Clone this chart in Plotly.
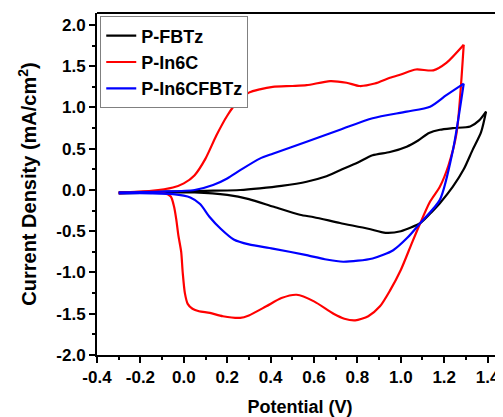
import plotly.graph_objects as go

# P-FBTz (black): forward (anodic) and return (cathodic) branches
fbtz_fwd_x = [-0.3, -0.1, 0.1, 0.26, 0.35, 0.45, 0.566, 0.65, 0.72, 0.8, 0.87, 0.95, 1.027, 1.08, 1.13,
              1.18, 1.24, 1.32, 1.36, 1.393]
fbtz_fwd_y = [-0.03, -0.02, -0.01, 0.0, 0.02, 0.05, 0.10, 0.16, 0.24, 0.33, 0.42, 0.46, 0.525, 0.60, 0.69,
              0.73, 0.75, 0.77, 0.84, 0.95]
fbtz_rev_x = [1.393, 1.37, 1.33, 1.29, 1.24, 1.18, 1.13, 1.09, 1.0, 0.93, 0.85, 0.72, 0.6, 0.535, 0.41,
              0.3, 0.2, 0.05, -0.1, -0.3]
fbtz_rev_y = [0.95, 0.70, 0.48, 0.25, 0.04, -0.16, -0.30, -0.40, -0.50, -0.52, -0.47, -0.40, -0.33, -0.30,
              -0.20, -0.11, -0.06, -0.03, -0.03, -0.04]

# P-In6C (red)
in6c_fwd_x = [-0.3, -0.15, -0.05, 0.0, 0.05, 0.1, 0.15, 0.2, 0.25, 0.3, 0.35, 0.41, 0.5, 0.566, 0.674,
              0.75, 0.81, 0.88, 0.95, 1.0, 1.07, 1.15, 1.21, 1.29]
in6c_fwd_y = [-0.03, -0.01, 0.03, 0.08, 0.18, 0.38, 0.66, 0.90, 1.08, 1.18, 1.22, 1.25, 1.26, 1.27, 1.32,
              1.30, 1.26, 1.29, 1.36, 1.40, 1.46, 1.45, 1.54, 1.76]
in6c_rev_x = [1.29, 1.257, 1.22, 1.18, 1.135, 1.09, 1.05, 1.0, 0.95, 0.904, 0.85, 0.79, 0.74, 0.69, 0.6,
              0.52, 0.45, 0.38, 0.3, 0.26, 0.18, 0.12, 0.07, 0.04, 0.018, 0.005, -0.005, -0.012, -0.025,
              -0.035, -0.045, -0.06, -0.09, -0.2, -0.3]
in6c_rev_y = [1.76, 0.69, 0.30, 0.04, -0.14, -0.40, -0.65, -0.97, -1.22, -1.41, -1.53, -1.58, -1.56, -1.50,
              -1.35, -1.27, -1.31, -1.41, -1.52, -1.55, -1.53, -1.49, -1.47, -1.44, -1.38, -1.25, -1.00,
              -0.75, -0.55, -0.35, -0.20, -0.08, -0.04, -0.03, -0.04]

# P-In6CFBTz (blue)
in6cfbtz_fwd_x = [-0.3, -0.1, 0.05, 0.135, 0.2, 0.26, 0.35, 0.41, 0.566, 0.72, 0.87, 1.027, 1.135, 1.21, 1.29]
in6cfbtz_fwd_y = [-0.03, -0.02, 0.0, 0.06, 0.14, 0.24, 0.38, 0.44, 0.585, 0.73, 0.87, 0.95, 1.01, 1.15, 1.29]
in6cfbtz_rev_x = [1.29, 1.24, 1.18, 1.09, 1.03, 0.965, 0.87, 0.735, 0.65, 0.566, 0.41, 0.3, 0.23, 0.17,
                  0.12, 0.075, 0.03, -0.05, -0.15, -0.3]
in6cfbtz_rev_y = [1.29, 0.48, -0.12, -0.40, -0.58, -0.73, -0.83, -0.87, -0.84, -0.79, -0.71, -0.66, -0.60,
                  -0.47, -0.33, -0.17, -0.09, -0.05, -0.04, -0.04]

x_ticks = [-0.4, -0.2, 0.0, 0.2, 0.4, 0.6, 0.8, 1.0, 1.2, 1.4]
y_ticks = [-2.0, -1.5, -1.0, -0.5, 0.0, 0.5, 1.0, 1.5, 2.0]

FONT = "Liberation Sans"

fig = go.Figure()
series = [
    ("P-FBTz", "black", (fbtz_fwd_x, fbtz_fwd_y), (fbtz_rev_x, fbtz_rev_y)),
    ("P-In6C", "#ff0000", (in6c_fwd_x, in6c_fwd_y), (in6c_rev_x, in6c_rev_y)),
    ("P-In6CFBTz", "#0000ff", (in6cfbtz_fwd_x, in6cfbtz_fwd_y), (in6cfbtz_rev_x, in6cfbtz_rev_y)),
]
for name, col, fwd, rev in series:
    for i, (xs, ys) in enumerate((fwd, rev)):
        fig.add_trace(go.Scatter(x=xs, y=ys, mode="lines", name=name, legendgroup=name,
                                 showlegend=(i == 0),
                                 line=dict(color=col, width=2.2, shape="spline", smoothing=0.7)))

# page body has an 8px default margin, so the figure is sized/offset to compensate
fig.update_layout(
    width=495, height=409,
    margin=dict(l=89, r=0, t=5, b=62),
    paper_bgcolor="white", plot_bgcolor="white",
    font=dict(family=FONT, color="black"),
    showlegend=True,
    legend=dict(x=0.008, y=0.99, xanchor="left", yanchor="top",
                bgcolor="white", bordercolor="#808080", borderwidth=1,
                font=dict(family=FONT, size=18, weight="bold"),
                tracegroupgap=0),
)
fig.update_xaxes(
    range=[-0.4, 1.471], tickvals=x_ticks, ticktext=[f"{v:.1f}" for v in x_ticks],
    automargin=False,
    showgrid=False, zeroline=False, showline=True, linecolor="black", linewidth=2,
    ticks="outside", ticklen=6, tickwidth=2, tickcolor="black",
    minor=dict(ticks="outside", ticklen=3, tickwidth=2, tickcolor="black", dtick=0.1, tick0=-0.4, showgrid=False),
    tickfont=dict(family=FONT, size=17, weight="bold"),
    title=dict(text="Potential (V)", font=dict(family=FONT, size=18, weight="bold"), standoff=19),
)
fig.update_yaxes(
    range=[-2.0, 2.145], tickvals=y_ticks, ticktext=[f"{v:.1f}" for v in y_ticks],
    automargin=False,
    showgrid=False, zeroline=False, showline=True, linecolor="black", linewidth=2,
    ticks="outside", ticklen=6, tickwidth=2, tickcolor="black",
    minor=dict(ticks="outside", ticklen=3, tickwidth=2, tickcolor="black", dtick=0.25, tick0=-2.0, showgrid=False),
    tickfont=dict(family=FONT, size=17, weight="bold"),
    title=dict(text="Current Density (mA/cm<sup>2</sup>)", font=dict(family=FONT, size=20, weight="bold"), standoff=14),
)
fig.add_shape(type="line", xref="paper", yref="paper", x0=0, x1=1, y0=1, y1=1,
              line=dict(color="black", width=2))

fig.write_html("out.html")
